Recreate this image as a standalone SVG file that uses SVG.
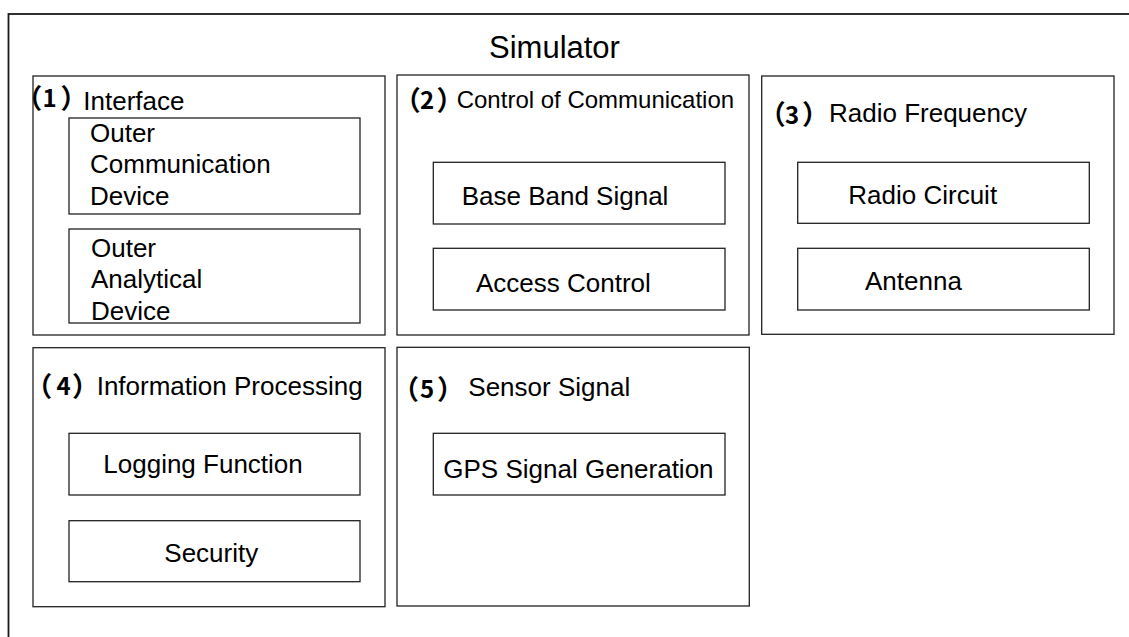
<svg xmlns="http://www.w3.org/2000/svg" width="1129" height="637" viewBox="0 0 1129 637">
<style>
.frame{fill:none;stroke:#1a1a1a;stroke-width:1.8}
.box{fill:#fff;stroke:#222;stroke-width:1.3}
.t{font-family:"Liberation Sans",Arial,sans-serif;font-size:26px;fill:#000}
.title{font-family:"Liberation Sans",Arial,sans-serif;font-size:31px;fill:#000}
.num{font-family:"Noto Sans CJK JP","Noto Sans CJK SC",sans-serif;font-weight:bold;font-size:27px}
.d{font-size:24px}
.cp{letter-spacing:-14px}
</style>
<rect width="1129" height="637" fill="#fff"/>
<g id="simulator">
<rect class="frame" x="8.5" y="14" width="1140" height="650"/>
<text class="title" x="489" y="58">Simulator</text>
</g>
<g id="interface">
<rect class="box" x="33" y="76" width="352" height="259"/>
<text class="t"><tspan class="num" x="15.3" y="107.5">（</tspan><tspan class="num d" x="42.5" y="107">1</tspan><tspan class="num cp" x="60.4" y="107.5">）</tspan><tspan x="83.3" y="109.5">Interface</tspan></text>
</g>
<g id="outer-communication-device">
<rect class="box" x="69" y="118" width="291" height="96"/>
<text class="t" x="90" y="141.7">Outer</text>
<text class="t" x="90" y="173.3">Communication</text>
<text class="t" x="90" y="205">Device</text>
</g>
<g id="outer-analytical-device">
<rect class="box" x="69" y="229" width="291" height="94"/>
<text class="t" x="91" y="256.7">Outer</text>
<text class="t" x="91" y="288.3">Analytical</text>
<text class="t" x="91" y="320">Device</text>
</g>
<g id="control-of-communication">
<rect class="box" x="397" y="75" width="352" height="260"/>
<text class="t"><tspan class="num" x="393.7" y="109.5">（</tspan><tspan class="num d" x="420" y="108.5">2</tspan><tspan class="num cp" x="436.4" y="109.5">）</tspan><tspan x="456.7" y="108" style="font-size:24px">Control of Communication</tspan></text>
</g>
<g id="base-band-signal">
<rect class="box" x="433.3" y="162.3" width="291.7" height="61.7"/>
<text class="t" x="461.7" y="205">Base Band Signal</text>
</g>
<g id="access-control">
<rect class="box" x="433.3" y="248.3" width="291.7" height="61.7"/>
<text class="t" x="476" y="291.7">Access Control</text>
</g>
<g id="radio-frequency">
<rect class="box" x="761.7" y="76" width="352.3" height="258.3"/>
<text class="t"><tspan class="num" x="758.7" y="124">（</tspan><tspan class="num d" x="785" y="124">3</tspan><tspan class="num cp" x="802" y="124">）</tspan><tspan x="829" y="121.5">Radio Frequency</tspan></text>
</g>
<g id="radio-circuit">
<rect class="box" x="797.7" y="162.3" width="291.6" height="61"/>
<text class="t" x="848.3" y="204">Radio Circuit</text>
</g>
<g id="antenna">
<rect class="box" x="797.7" y="248.3" width="291.6" height="61.7"/>
<text class="t" x="865" y="290">Antenna</text>
</g>
<g id="information-processing">
<rect class="box" x="33" y="347.7" width="352" height="259"/>
<text class="t"><tspan class="num" x="25.3" y="395.5">（</tspan><tspan class="num d" x="56.5" y="395">4</tspan><tspan class="num cp" x="72" y="395.5">）</tspan><tspan x="96.7" y="395">Information Processing</tspan></text>
</g>
<g id="logging-function">
<rect class="box" x="69" y="433.3" width="291" height="61.7"/>
<text class="t" x="103.3" y="473.3">Logging Function</text>
</g>
<g id="security">
<rect class="box" x="69" y="520.7" width="291" height="61"/>
<text class="t" x="164.3" y="561.7">Security</text>
</g>
<g id="sensor-signal">
<rect class="box" x="397" y="347.3" width="352.3" height="258.7"/>
<text class="t"><tspan class="num" x="392" y="398.5">（</tspan><tspan class="num d" x="420" y="398.3">5</tspan><tspan class="num cp" x="437" y="398.5">）</tspan><tspan x="468.3" y="395.7">Sensor Signal</tspan></text>
</g>
<g id="gps-signal-generation">
<rect class="box" x="433.3" y="433.3" width="291.7" height="61.7"/>
<text class="t" x="443.3" y="478.3">GPS Signal Generation</text>
</g>
<g id="connectors"/>
</svg>
